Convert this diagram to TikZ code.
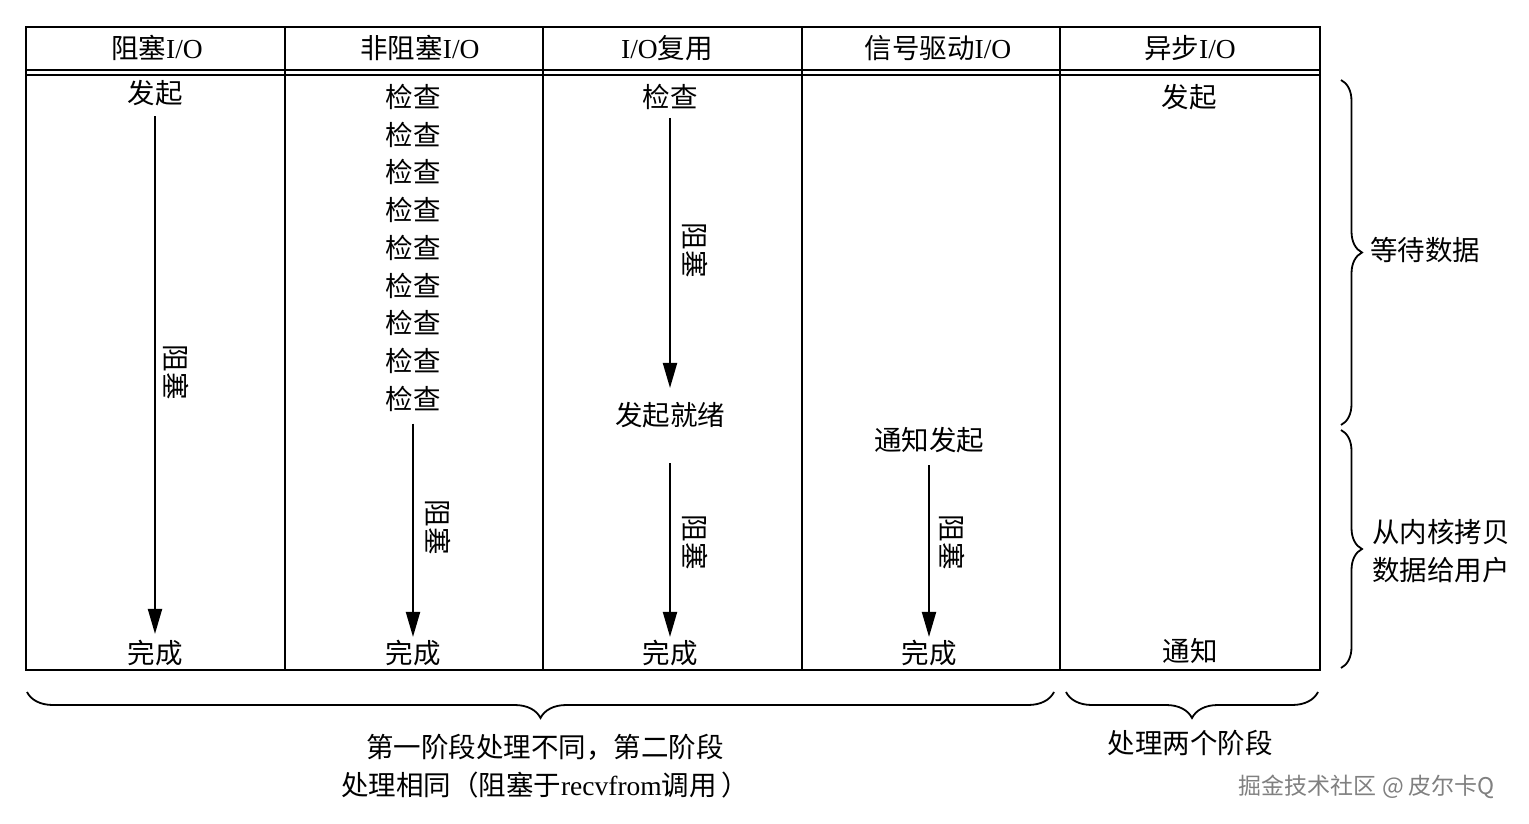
\documentclass[tikz,border=0pt]{standalone}
\usepackage{fontspec}
\setmainfont{Liberation Serif}
\newfontfamily\cjk{Noto Sans CJK SC}
\usetikzlibrary{arrows.meta,decorations.pathreplacing}
\begin{document}
\begin{tikzpicture}[x=1pt,y=-1pt,
  hdr/.style={font=\fontsize{27.5}{30}\selectfont, inner sep=0pt},
  txt/.style={font=\fontsize{27.5}{30}\selectfont\cjk, inner sep=0pt},
  vtxt/.style={txt, rotate=-90},
  arr/.style={line width=2pt, -{Triangle[length=25pt,width=14pt]}},
  tbl/.style={line width=2.2pt},
  brc/.style={decorate, decoration={brace, amplitude=#1}, line width=1.8pt},
  lbl/.style={font=\fontsize{27.5}{38}\selectfont, inner sep=0pt, align=center},
  wm/.style={font=\fontsize{23}{26}\selectfont\cjk, text=black!50, inner sep=0pt}]
\useasboundingbox (0,0) rectangle (1529,824);
% table
\draw[tbl] (26,27) rectangle (1320,670);
\draw[tbl] (26,70) -- (1320,70);
\draw[tbl] (26,75) -- (1320,75);
\foreach \x in {285,543,802,1060} \draw[tbl] (\x,27) -- (\x,670);
% headers
\node[hdr] (h1) at (157,48) {{\cjk 阻塞}I/O};
\node[hdr] (h2) at (420,48) {{\cjk 非阻塞}I/O};
\node[hdr] (h3) at (667,48) {I/O{\cjk 复用}};
\node[hdr] (h4) at (938,48) {{\cjk 信号驱动}I/O};
\node[hdr] (h5) at (1190,48) {{\cjk 异步}I/O};
% column 1
\node[txt] (a1) at (155,93) {发起};
\node[txt] (a2) at (155,653) {完成};
\draw[arr] ([yshift=-10pt]a1.south) -- ([yshift=6pt]a2.north);
\node[vtxt] (ab1) at (176,372) {阻塞};
% column 2
\foreach \i in {1,...,9} \node[txt] (b\i) at (413,{97+37.7*(\i-1)}) {检查};
\node[txt] (bd) at (413,653) {完成};
\draw[arr] ([yshift=-12pt]b9.south) -- ([yshift=3pt]bd.north);
\node[vtxt] (bb1) at (438,527) {阻塞};
% column 3
\node[txt] (c1) at (670,97) {检查};
\node[txt] (c2) at (670,415) {发起就绪};
\node[txt] (c3) at (670,653) {完成};
\draw[arr] ([yshift=-8pt]c1.south) -- ([yshift=14pt]c2.north);
\draw[arr] ([yshift=-35pt]c2.south) -- ([yshift=3pt]c3.north);
\node[vtxt] (cb1) at (695,250) {阻塞};
\node[vtxt] (cb2) at (695,542) {阻塞};
% column 4
\node[txt] (d1) at (929,440) {通知发起};
\node[txt] (d2) at (929,653) {完成};
\draw[arr] ([yshift=-12pt]d1.south) -- ([yshift=3pt]d2.north);
\node[vtxt] (db1) at (952,542) {阻塞};
% column 5
\node[txt] (e1) at (1189,97) {发起};
\node[txt] (e2) at (1190,651) {通知};
% right braces
\draw[brc=21pt] (1341,80) -- (1341,425);
\draw[brc=21pt] (1341,430) -- (1341,668);
\node[txt, anchor=west] (r1) at (1370,250) {等待数据};
\node[txt, anchor=west, align=left, font=\fontsize{27.5}{38}\selectfont\cjk] (r2) at (1372,551) {从内核拷贝\\数据给用户};
% bottom braces
\draw[brc=26pt] (1054,692) -- (27,692);
\draw[brc=26pt] (1318,692) -- (1066,692);
\node[lbl] (l1) at (545,766) {{\cjk 第一阶段处理不同，第二阶段}\\{\cjk 处理相同（阻塞于}recvfrom{\cjk 调用}\,{\cjk ）}};
\node[txt] (l2) at (1190,743) {处理两个阶段};
\node[wm] (w) at (1367,787) {掘金技术社区 @ 皮尔卡Q};
\end{tikzpicture}
\end{document}
